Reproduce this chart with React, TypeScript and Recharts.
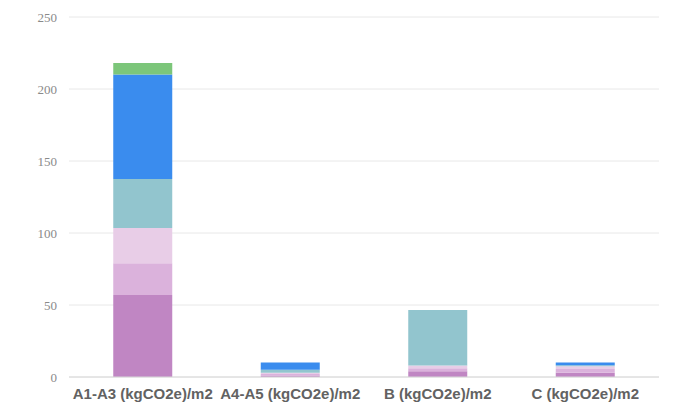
import { Bar, BarChart, CartesianGrid, XAxis, YAxis } from 'recharts'

const CATEGORIES = ['A1-A3 (kgCO2e)/m2', 'A4-A5 (kgCO2e)/m2', 'B (kgCO2e)/m2', 'C (kgCO2e)/m2']

// stacked from bottom to top
const PURPLE = [57, 1, 4, 3]
const LILAC = [22, 1, 2, 2.5]
const PINK = [24.5, 1, 2, 2]
const TEAL = [34, 2, 38.5, 0.7]
const BLUE = [72.5, 5, 0, 1.8]
const GREEN = [8, 0, 0, 0]

const Y_TICKS = [0, 50, 100, 150, 200, 250]

const SERIES = [
  { key: 'purple', values: PURPLE, color: '#C086C3' },
  { key: 'lilac', values: LILAC, color: '#DBB2DC' },
  { key: 'pink', values: PINK, color: '#E8CDE7' },
  { key: 'teal', values: TEAL, color: '#92C5CE' },
  { key: 'blue', values: BLUE, color: '#3A8CEE' },
  { key: 'green', values: GREEN, color: '#7CC67A' },
]

const data = CATEGORIES.map((name, i) => {
  const row: Record<string, string | number> = { name }
  SERIES.forEach((s) => {
    row[s.key] = s.values[i]
  })
  return row
})

export default function App() {
  return (
    <BarChart
      width={666}
      height={397}
      data={data}
      margin={{ top: 9, right: 15, bottom: 0, left: 6 }}
      barCategoryGap="30%"
    >
      <CartesianGrid stroke="#e8e8e8" vertical={false} />
      <XAxis
        dataKey="name"
        height={28}
        axisLine={{ stroke: '#d8d8d8' }}
        tickLine={false}
        tickMargin={5}
        interval={0}
        tick={{ fill: '#626262', fontSize: 15, fontWeight: 'bold', fontFamily: 'Liberation Sans, Arial, sans-serif' }}
      />
      <YAxis
        width={55}
        domain={[0, 250]}
        ticks={Y_TICKS}
        axisLine={false}
        tickLine={false}
        tickMargin={6}
        tick={{ fill: '#8a8a8a', fontSize: 13, fontFamily: 'Liberation Serif, Times New Roman, serif' }}
      />
      {SERIES.map((s) => (
        <Bar key={s.key} dataKey={s.key} stackId="a" fill={s.color} isAnimationActive={false} />
      ))}
    </BarChart>
  )
}
